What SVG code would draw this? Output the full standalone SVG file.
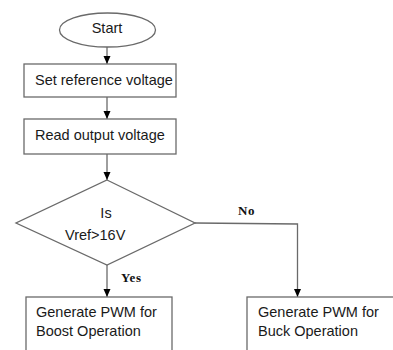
<svg xmlns="http://www.w3.org/2000/svg" width="393" height="350" viewBox="0 0 393 350">
<defs>
<marker id="ah" viewBox="0 0 8 8" refX="8" refY="4" markerWidth="8" markerHeight="8" markerUnits="userSpaceOnUse" orient="auto">
<path d="M0,0.5 L8,4 L0,7.5 Z" fill="#000"/>
</marker>
<style>
.s{fill:#fff;stroke:#6a6a6a;stroke-width:1.3}
.c{fill:none;stroke:#6a6a6a;stroke-width:1.3;marker-end:url(#ah)}
.t{font-family:"Liberation Sans",Arial,sans-serif;font-size:14.5px;fill:#1a1a1a}
.l{font-family:"Liberation Serif","Times New Roman",serif;font-size:13px;font-weight:bold;fill:#111;letter-spacing:0.6px}
</style>
</defs>
<rect width="393" height="350" fill="#fff"/>
<g id="connectors">
<line class="c" x1="107" y1="47" x2="107" y2="64"/>
<line class="c" x1="107" y1="97" x2="107" y2="119"/>
<line class="c" x1="107" y1="154" x2="107" y2="180"/>
<line class="c" x1="107" y1="265" x2="107" y2="297"/>
<polyline class="c" points="195,223 297.5,224 297.5,297"/>
<text class="l" x="121" y="282">Yes</text>
<text class="l" x="238" y="215">No</text>
</g>
<g id="start">
<ellipse class="s" cx="107.5" cy="30" rx="48" ry="17"/>
<text class="t" x="107" y="33" text-anchor="middle">Start</text>
</g>
<g id="set-ref">
<rect class="s" x="24" y="64" width="152" height="33"/>
<text class="t" x="35" y="84.5">Set reference voltage</text>
</g>
<g id="read-out">
<rect class="s" x="24" y="119" width="152" height="35"/>
<text class="t" x="35" y="140">Read output voltage</text>
</g>
<g id="decision">
<polygon class="s" points="107,180 195,223 107,265 16,223"/>
<text class="t" x="106" y="218" text-anchor="middle">Is</text>
<text class="t" x="65" y="240">Vref&gt;16V</text>
</g>
<g id="boost">
<rect class="s" x="26" y="297" width="146" height="60"/>
<text class="t" x="36" y="317">Generate PWM for</text>
<text class="t" x="36" y="336">Boost Operation</text>
</g>
<g id="buck">
<rect class="s" x="247" y="297" width="150" height="60"/>
<text class="t" x="258" y="317">Generate PWM for</text>
<text class="t" x="258" y="336">Buck Operation</text>
</g>
</svg>
